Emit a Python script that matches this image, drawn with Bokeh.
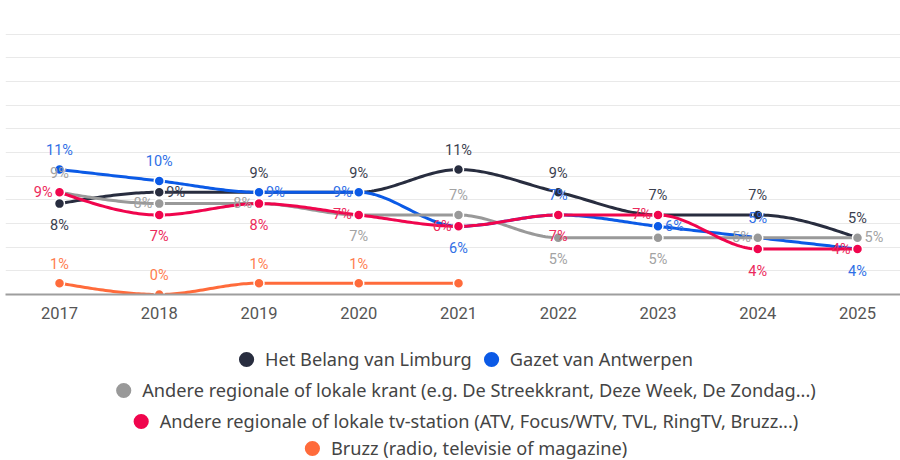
import numpy as np
from bokeh.plotting import figure
from bokeh.layouts import column
from bokeh.models import ColumnDataSource, Legend, LegendItem, FixedTicker, Range1d
from bokeh.embed import file_html
from bokeh.resources import INLINE
from bokeh.core.properties import value

# ---------------- data ----------------
years = [2017, 2018, 2019, 2020, 2021, 2022, 2023, 2024, 2025]
year_labels = ["2017", "2018", "2019", "2020", "2021", "2022", "2023", "2024", "2025"]

hbvl = [8, 9, 9, 9, 11, 9, 7, 7, 5]
gva = [11, 10, 9, 9, 6, 7, 6, 5, 4]
krant = [9, 8, 8, 7, 7, 5, 5, 5, 5]
tv = [9, 7, 8, 7, 6, 7, 7, 4, 4]
bruzz = [1, 0, 1, 1, 1, None, None, None, None]

names = [
    "Het Belang van Limburg",
    "Gazet van Antwerpen",
    "Andere regionale of lokale krant (e.g. De Streekkrant, Deze Week, De Zondag...)",
    "Andere regionale of lokale tv-station (ATV, Focus/WTV, TVL, RingTV, Bruzz...)",
    "Bruzz (radio, televisie of magazine)",
]

# label placement per point: t=top, b=bottom, l=left, r=right
place_hbvl = ["b", "r", "t", "t", "t", "t", "t", "t", "t"]
place_gva = ["t", "t", "r", "l", "b", "t", "r", "t", "b"]
place_krant = ["t", "l", "l", "b", "t", "b", "b", "l", "r"]
place_tv = ["l", "b", "b", "l", "l", "b", "l", "b", "l"]
place_bruzz = ["t", "t", "t", "t", "b", None, None, None, None]

line_colors = ["#282d3f", "#0b5ae6", "#999999", "#f0054d", "#ff6b3b"]
label_colors = ["#3a3e4e", "#2f6fe6", "#a3a3a3", "#ec2a5c", "#ff7d4f"]

series = [hbvl, gva, krant, tv, bruzz]
places = [place_hbvl, place_gva, place_krant, place_tv, place_bruzz]


def monotone(xs, ys, n=40):
    xs = np.asarray(xs, float)
    ys = np.asarray(ys, float)
    m = len(xs)
    h = np.diff(xs)
    s = np.diff(ys) / h
    t = np.zeros(m)
    for i in range(1, m - 1):
        s0, s1 = s[i - 1], s[i]
        p_ = (s0 * h[i] + s1 * h[i - 1]) / (h[i - 1] + h[i])
        t[i] = (np.sign(s0) + np.sign(s1)) * min(abs(s0), abs(s1), 0.5 * abs(p_))
    if m > 2:
        t[0] = (3 * s[0] - t[1]) / 2
        t[-1] = (3 * s[-1] - t[-2]) / 2
    else:
        t[:] = s[0]
    outx, outy = [], []
    u = np.linspace(0, 1, n)
    h00 = 2 * u**3 - 3 * u**2 + 1
    h10 = u**3 - 2 * u**2 + u
    h01 = -2 * u**3 + 3 * u**2
    h11 = u**3 - u**2
    for i in range(m - 1):
        xx = xs[i] + u * h[i]
        yy = h00 * ys[i] + h10 * h[i] * t[i] + h01 * ys[i + 1] + h11 * h[i] * t[i + 1]
        outx.extend(xx.tolist())
        outy.extend(yy.tolist())
    return outx, outy


p = figure(
    width=900, height=343,
    x_range=Range1d(2016.4586, 2025.431), y_range=Range1d(0, 25),
    output_backend="svg", toolbar_location=None,
    y_axis_location=None, frame_align=False,
    min_border_left=5, min_border_right=0, min_border_top=10, min_border_bottom=49,
)
p.outline_line_color = None
p.background_fill_color = "white"
p.xgrid.visible = False
p.ygrid.ticker = FixedTicker(ticks=[25 * i / 12 for i in range(1, 13)])
p.ygrid.grid_line_color = "#e9e9e9"
p.ygrid.grid_line_width = 1

ax = p.xaxis[0]
ax.ticker = FixedTicker(ticks=years)
ax.major_label_overrides = {y: l for y, l in zip(years, year_labels)}
ax.major_label_text_font = "Roboto"
ax.major_label_text_font_size = "16.5px"
ax.major_label_text_color = "#555555"
ax.axis_line_color = "#9e9e9e"
ax.axis_line_width = 2
ax.major_tick_line_color = None
ax.minor_tick_line_color = None
ax.major_label_standoff = 6

offsets = {
    "t": dict(text_align="center", x_offset=0, y_offset=-19),
    "b": dict(text_align="center", x_offset=0, y_offset=22),
    "l": dict(text_align="right", x_offset=-7, y_offset=0),
    "r": dict(text_align="left", x_offset=7, y_offset=0),
}

label_jobs = []
for vals, plc, lc, tc in zip(series, places, line_colors, label_colors):
    xs = [y for y, v in zip(years, vals) if v is not None]
    ys = [v for v in vals if v is not None]
    sx, sy = monotone(xs, ys)
    p.line(sx, sy, line_color=lc, line_width=3, line_cap="round", line_join="round")
    p.scatter(xs, ys, size=10, fill_color=lc, line_color="white", line_width=1.5)
    for code in ["t", "b", "l", "r"]:
        px = [y for y, v, c in zip(years, vals, plc) if v is not None and c == code]
        py = [v for y, v, c in zip(years, vals, plc) if v is not None and c == code]
        if px:
            label_jobs.append((px, py, code, tc))

for px, py, code, tc in label_jobs:
    src = ColumnDataSource(dict(x=px, y=py, t=[f"{v}%" for v in py]))
    p.text(x="x", y="y", text="t", source=src, text_font=value("Roboto"),
           text_font_size="14.5px", text_color=tc, text_baseline="middle", **offsets[code])

# ---------------- legend rows ----------------
rows = [[0, 1], [2], [3], [4]]
row_heights = [31, 31, 31, 24]
legend_figs = []
for row, rh in zip(rows, row_heights):
    lf = figure(width=900, height=rh, x_range=Range1d(0, 1), y_range=Range1d(0, 1),
                output_backend="svg", toolbar_location=None,
                x_axis_location=None, y_axis_location=None, frame_align=False,
                min_border_left=20, min_border_right=0, min_border_top=0, min_border_bottom=0)
    lf.outline_line_color = None
    lf.xgrid.visible = False
    lf.ygrid.visible = False
    items = []
    for i in row:
        # legend proxy glyph (kept outside the visible range)
        r = lf.scatter([2], [2], size=10, fill_color=line_colors[i], line_color=None)
        items.append(LegendItem(label=names[i], renderers=[r]))
    leg = Legend(
        items=items, orientation="horizontal", location="center",
        glyph_width=38, glyph_height=38, label_standoff=0, spacing=0,
        padding=0, margin=0, border_line_color=None, background_fill_alpha=0,
        label_text_font="Noto Sans", label_text_font_size="18.2px", label_text_color="#444444",
    )
    lf.add_layout(leg, "center")
    legend_figs.append(lf)

layout = column(p, *legend_figs, spacing=0)
open("out.html", "w").write(file_html(layout, INLINE))
